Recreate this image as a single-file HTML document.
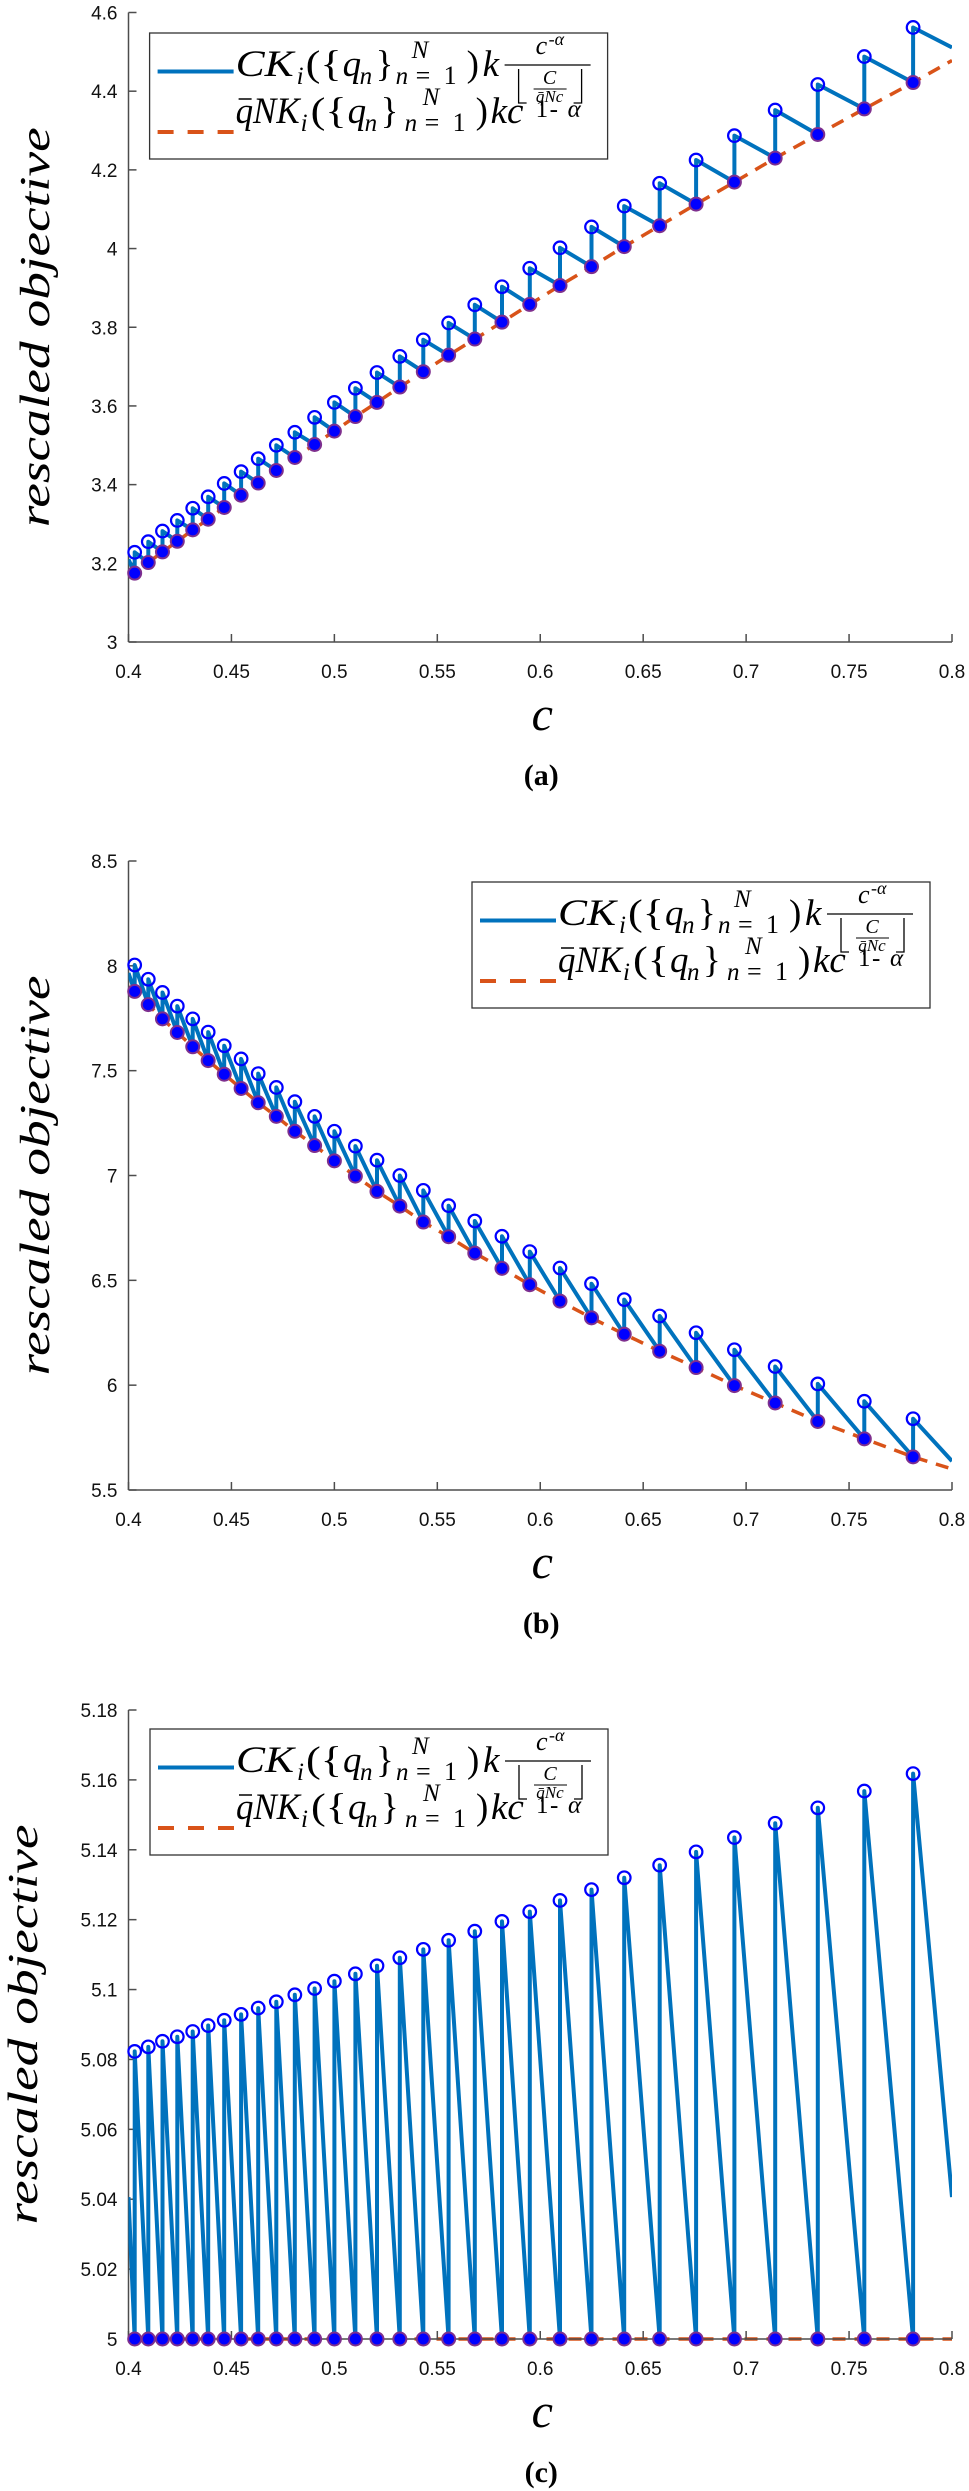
<!DOCTYPE html>
<html><head><meta charset="utf-8"><style>
html,body{margin:0;padding:0;background:#fff;}
svg{display:block;}
</style></head><body>
<svg id="fig" width="969" height="2491" viewBox="0 0 969 2491" xmlns="http://www.w3.org/2000/svg"></svg>
<script>
// ---- data ----
const cVals=[0.403,0.4096,0.4165,0.4237,0.4312,0.4387,0.4465,0.4547,0.463,0.4718,0.4808,0.4904,0.5,0.5102,0.5207,0.5318,0.5432,0.5555,0.5682,0.5814,0.5949,0.6096,0.6249,0.6408,0.658,0.6757,0.6943,0.7141,0.7348,0.7574,0.7811];
const aLow=[3.175,3.202,3.229,3.256,3.285,3.312,3.342,3.373,3.404,3.436,3.469,3.502,3.536,3.573,3.609,3.648,3.687,3.729,3.770,3.813,3.858,3.906,3.954,4.005,4.058,4.113,4.169,4.230,4.290,4.355,4.422];
const aHigh=[3.228,3.255,3.282,3.309,3.340,3.369,3.403,3.433,3.466,3.500,3.533,3.571,3.609,3.645,3.685,3.726,3.768,3.811,3.857,3.903,3.950,4.002,4.055,4.108,4.166,4.225,4.287,4.352,4.417,4.488,4.562];
const aEnds=[3.21,4.511,3.165,4.478]; // blue start, blue end, orange start, orange end
const bLow=[7.878,7.815,7.747,7.682,7.614,7.548,7.483,7.415,7.347,7.282,7.211,7.143,7.070,6.997,6.924,6.854,6.778,6.708,6.630,6.557,6.479,6.401,6.321,6.243,6.162,6.084,5.998,5.915,5.827,5.744,5.658];
const bHigh=[8.004,7.936,7.873,7.808,7.747,7.684,7.619,7.556,7.486,7.420,7.352,7.282,7.211,7.140,7.073,7.000,6.929,6.856,6.783,6.710,6.637,6.559,6.484,6.408,6.330,6.250,6.169,6.089,6.006,5.923,5.840];
const bEnds=[7.966,5.638,7.90,5.60];
const cLow=[5,5,5,5,5,5,5,5,5,5,5,5,5,5,5,5,5,5,5,5,5,5,5,5,5,5,5,5,5,5,5];
const cHigh=[5.0823,5.0836,5.0852,5.0865,5.0880,5.0897,5.0912,5.0929,5.0947,5.0965,5.0985,5.1003,5.1024,5.1045,5.1068,5.1091,5.1115,5.1141,5.1167,5.1195,5.1223,5.1255,5.1286,5.1320,5.1356,5.1394,5.1435,5.1476,5.1520,5.1568,5.1618];
const cEnds=[5.0406,5.0406,5,5];
const xTicks=[0.4,0.45,0.5,0.55,0.6,0.65,0.7,0.75,0.8];
const xTickLabels=["0.4","0.45","0.5","0.55","0.6","0.65","0.7","0.75","0.8"];
const aTicks=[3,3.2,3.4,3.6,3.8,4,4.2,4.4,4.6];
const aTickLabels=["3","3.2","3.4","3.6","3.8","4","4.2","4.4","4.6"];
const bTicks=[5.5,6,6.5,7,7.5,8,8.5];
const bTickLabels=["5.5","6","6.5","7","7.5","8","8.5"];
const cTicks=[5,5.02,5.04,5.06,5.08,5.1,5.12,5.14,5.16,5.18];
const cTickLabels=["5","5.02","5.04","5.06","5.08","5.1","5.12","5.14","5.16","5.18"];

const NS="http://www.w3.org/2000/svg";
const svg=document.getElementById('fig');
const SERIF="'Liberation Serif', 'Times New Roman', serif";
const SANS="'Liberation Sans', Arial, sans-serif";
function mk(tag,attrs,parent){const e=document.createElementNS(NS,tag);for(const k in attrs)e.setAttribute(k,attrs[k]);(parent||svg).appendChild(e);return e;}
function txt(s,attrs,parent){const e=mk('text',attrs,parent);e.textContent=s;return e;}

const L=128.5,R=952;
function panel(id,top,bot,ymin,ymax,low,high,ends,ticks,tickLabels,lx,ly,letter,ylabCx){
  const g=mk('g',{});
  
  
  const X=v=>L+(v-0.4)/(0.4)*(R-L);
  const Y=v=>bot-(v-ymin)/(ymax-ymin)*(bot-top);
  const cid='clip-'+id;
  const cp=mk('clipPath',{id:cid},g);mk('rect',{x:L,y:top-2,width:R-L,height:bot-top+4},cp);
  let op=[[0.4,ends[2]]];for(let i=0;i<cVals.length;i++)op.push([cVals[i],low[i]]);op.push([0.8,ends[3]]);
  const o=mk('polyline',{points:op.map(p=>X(p[0]).toFixed(1)+','+Y(p[1]).toFixed(1)).join(' '),fill:'none',stroke:'#D95319','stroke-width':3.5,'stroke-dasharray':'13,9','clip-path':'url(#'+cid+')'},g);
  
  
  const ax=mk('g',{stroke:'#4d4d4d','stroke-width':1.5},g);
  
  
  mk('line',{x1:L,y1:top,x2:L,y2:bot},ax);mk('line',{x1:L,y1:bot,x2:R,y2:bot},ax);
  xTicks.forEach((t,i)=>{mk('line',{x1:X(t),y1:bot,x2:X(t),y2:bot-8},ax);
    const tl=txt(xTickLabels[i],{x:X(t),y:bot+36,'text-anchor':'middle','font-family':SANS,'font-size':19,fill:'#111'},g);
    
    });
  ticks.forEach((t,i)=>{mk('line',{x1:L,y1:Y(t),x2:L+8,y2:Y(t)},ax);
    const tl=txt(tickLabels[i],{x:L-11,y:Y(t)+7,'text-anchor':'end','font-family':SANS,'font-size':19,fill:'#111'},g);
    
    });
  let bp=[[0.4,ends[0]]];for(let i=0;i<cVals.length;i++){bp.push([cVals[i],low[i]]);bp.push([cVals[i],high[i]]);}bp.push([0.8,ends[1]]);
  const b=mk('polyline',{points:bp.map(p=>X(p[0]).toFixed(1)+','+Y(p[1]).toFixed(1)).join(' '),fill:'none',stroke:'#0072BD','stroke-width':4,'stroke-linejoin':'round','clip-path':'url(#'+cid+')'},g);
  
  
  for(let i=0;i<cVals.length;i++){
    const m1=mk('circle',{cx:X(cVals[i]),cy:Y(low[i]),r:6.5,fill:'#0000ff',stroke:'#7E2F8E','stroke-width':2},g);
    
    
    const m2=mk('circle',{cx:X(cVals[i]),cy:Y(high[i]),r:6.3,fill:'none',stroke:'#0000ff','stroke-width':2.2},g);
    
    
  }
  const yl=txt('rescaled objective',{x:0,y:0,transform:'translate('+(ylabCx+12)+','+((top+bot)/2)+') rotate(-90)','text-anchor':'middle','font-family':SERIF,'font-style':'italic','font-size':42,textLength:400,lengthAdjust:'spacingAndGlyphs',fill:'#000'},g);
  
  
  const xl=txt('c',{x:(L+R)/2+2,y:bot+88,'text-anchor':'middle','font-family':SERIF,'font-style':'italic','font-size':48,fill:'#000'},g);
  
  
  const pl=txt('('+letter+')',{x:(L+R)/2+1,y:bot+143,'text-anchor':'middle','font-family':SERIF,'font-weight':'bold','font-size':30,fill:'#000'},g);
  
  
  legend(lx,ly,g);
}
function legend(ox,oy,parent){
  const g=mk('g',{transform:'translate('+ox+','+oy+')'},parent);
  
  
  mk('rect',{x:0,y:0,width:458,height:126,fill:'#fff',stroke:'#333','stroke-width':1.3},g);
  const s1=mk('line',{x1:8,y1:38.5,x2:84,y2:38.5,stroke:'#0072BD','stroke-width':4},g);
  
  
  const s2=mk('line',{x1:8,y1:99,x2:84,y2:99,stroke:'#D95319','stroke-width':4,'stroke-dasharray':'16,14'},g);
  
  
  const t=(s,x,y,sz,it,extra)=>{const a={x:x,y:y,'font-family':SERIF,'font-size':sz,fill:'#000'};if(it)a['font-style']='italic';Object.assign(a,extra||{});return txt(s,a,g);};
  // line 1
  const e1=t('CK',86,43,37,true,{textLength:58,lengthAdjust:'spacingAndGlyphs'});
  
  
  t('i',147,51,25,true);
  t('({',156,43,37,false,{textLength:36,lengthAdjust:'spacingAndGlyphs'});
  t('q',193,43,37,true);
  t('n',210,51,25,true);
  t('}',226,43,37,false);
  t('N',262,25,25,true);
  t('n',246,51,25,true);t('=',266,51,26,false);t('1',294,51,26,false);
  t(')',317,43,37,false);
  t('k',333,43,37,true);
  mk('line',{x1:355,y1:32,x2:441,y2:32,stroke:'#000','stroke-width':1.3},g);
  t('c',386,21,26,true);t('-α',399,12,18,true);
  mk('polyline',{points:'369,36 369,70 377,70',fill:'none',stroke:'#000','stroke-width':1.3},g);
  mk('polyline',{points:'432,36 432,70 424,70',fill:'none',stroke:'#000','stroke-width':1.3},g);
  t('C',400,51,20,true,{'text-anchor':'middle'});
  mk('line',{x1:384,y1:56,x2:417,y2:56,stroke:'#000','stroke-width':1},g);
  t('q̄Nc',400,69,17,true,{'text-anchor':'middle'});
  // line 2
  const e2=t('qNK',86,90,37,true,{textLength:64,lengthAdjust:'spacingAndGlyphs'});
  
  
  mk('line',{x1:89,y1:66,x2:102,y2:66,stroke:'#000','stroke-width':1.5},g);
  t('i',151,98,25,true);
  t('({',161,90,37,false,{textLength:36,lengthAdjust:'spacingAndGlyphs'});
  t('q',198,90,37,true);
  t('n',215,98,25,true);
  t('}',231,90,37,false);
  t('N',273,72,25,true);
  t('n',255,98,25,true);t('=',275,98,26,false);t('1',303,98,26,false);
  t(')',326,90,37,false);
  t('kc',341,90,37,true);
  t('1',386,84,25,false);t('-',400,84,25,false);t('α',418,84,25,true);
}
panel('a',12.5,642,3,4.6,aLow,aHigh,aEnds,aTicks,aTickLabels,149.6,33,'a',37);
panel('b',861,1490,5.5,8.5,bLow,bHigh,bEnds,bTicks,bTickLabels,472,882,'b',37);
panel('c',1710,2339,5,5.18,cLow,cHigh,cEnds,cTicks,cTickLabels,150,1729,'c',25);
</script>
</body></html>
